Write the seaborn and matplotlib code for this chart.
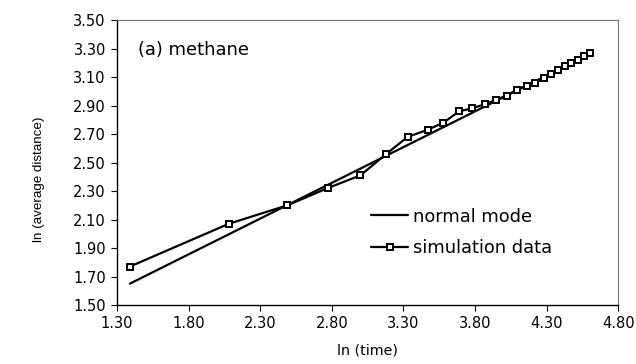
import matplotlib
matplotlib.use("Agg")
import matplotlib.pyplot as plt
import seaborn as sns

# simulation data (ln time vs ln average distance)
sim_x = [1.39, 2.08, 2.49, 2.77, 3.00, 3.18, 3.33, 3.47, 3.58, 3.69, 3.78, 3.87,
         3.95, 4.02, 4.09, 4.16, 4.22, 4.28, 4.33, 4.38, 4.43, 4.47, 4.52, 4.56, 4.60]
sim_y = [1.77, 2.07, 2.20, 2.32, 2.41, 2.56, 2.68, 2.73, 2.78, 2.86, 2.88, 2.91,
         2.94, 2.97, 3.01, 3.04, 3.06, 3.09, 3.12, 3.15, 3.18, 3.20, 3.22, 3.25, 3.27]
# normal mode fit
nm_x = [1.39, 4.60]
nm_y = [1.65, 3.26]

xticks = [1.30, 1.80, 2.30, 2.80, 3.30, 3.80, 4.30, 4.80]
yticks = [1.50, 1.70, 1.90, 2.10, 2.30, 2.50, 2.70, 2.90, 3.10, 3.30, 3.50]

sns.set_style("ticks")
plt.rcParams['font.family'] = ['DejaVu Sans']
plt.rcParams['text.color'] = 'black'
plt.rcParams['axes.labelcolor'] = 'black'

fig = plt.figure(figsize=(6.36, 3.64), dpi=100)
ax = fig.add_axes([0.184, 0.162, 0.788, 0.783])

sns.lineplot(x=nm_x, y=nm_y, ax=ax, color='black', lw=1.6, label='normal mode')
sns.lineplot(x=sim_x, y=sim_y, ax=ax, color='black', lw=1.6, marker='s',
             markersize=4.2, markerfacecolor='white', markeredgecolor='black',
             markeredgewidth=1.4, label='simulation data')

ax.set_xlim(1.30, 4.80)
ax.set_ylim(1.50, 3.50)
ax.set_xticks(xticks)
ax.set_xticklabels([f"{t:.2f}" for t in xticks], fontsize=10.5)
ax.set_yticks(yticks)
ax.set_yticklabels([f"{t:.2f}" for t in yticks], fontsize=10.5)
ax.tick_params(direction='out', length=4, width=0.8, colors='black', pad=4)

for side in ['left', 'bottom']:
    ax.spines[side].set_color('black')
    ax.spines[side].set_linewidth(1.0)
for side in ['top', 'right']:
    ax.spines[side].set_visible(True)
    ax.spines[side].set_color('#777777')
    ax.spines[side].set_linewidth(0.8)

ax.set_xlabel('ln (time)', fontsize=10.3, labelpad=9)
ax.set_ylabel('ln (average distance)', fontsize=9.6,
              family=['Liberation Sans', 'DejaVu Sans'])
ax.yaxis.set_label_coords(-0.144, 0.44)
ax.text(0.042, 0.895, '(a) methane', transform=ax.transAxes, fontsize=12.9, va='center')

ax.legend(loc='center left', bbox_to_anchor=(0.493, 0.255), frameon=False, fontsize=12.9,
          handlelength=2.06, handletextpad=0.28, labelspacing=0.75, borderaxespad=0)

fig.savefig('out.png', dpi=100)
